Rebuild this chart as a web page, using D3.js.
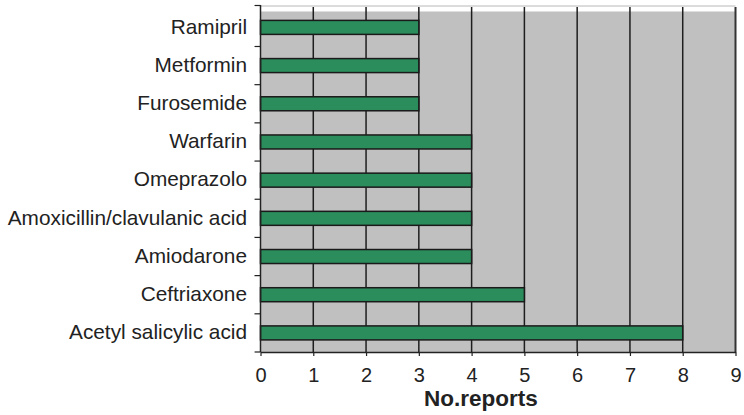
<!DOCTYPE html>
<html>
<head>
<meta charset="utf-8">
<script src="https://cdn.jsdelivr.net/npm/d3@7"></script>
<style>
  html, body { margin: 0; padding: 0; background: #fff; }
  svg { display: block; }
  text { font-family: "Liberation Sans", Arial, sans-serif; fill: #222; }
</style>
</head>
<body>
<svg id="chart" width="744" height="415"></svg>
<script>
// Drugs, listed top to bottom
const drugs = [
  "Ramipril", "Metformin", "Furosemide", "Warfarin", "Omeprazolo",
  "Amoxicillin/clavulanic acid", "Amiodarone", "Ceftriaxone", "Acetyl salicylic acid"
];
// Number of reports per drug
const reports = [3, 3, 3, 4, 4, 4, 4, 5, 8];
// X-axis ticks
const xTicks = [0, 1, 2, 3, 4, 5, 6, 7, 8, 9];
const xTitle = "No.reports";

const rows = drugs.map((d, i) => ({ drug: d, value: reports[i] }));

const plotLeft = 260.5, plotRight = 735.5, plotTop = 8.3, plotBottom = 352;

const svg = d3.select("#chart");

const x = d3.scaleLinear().domain([0, 9]).range([plotLeft, plotRight]);
const y = d3.scaleBand().domain(drugs).range([plotTop, plotBottom]).paddingInner(0).paddingOuter(0);

// plot background
svg.append("rect")
  .attr("x", plotLeft).attr("y", 11.5)
  .attr("width", plotRight - plotLeft).attr("height", plotBottom - 11.5)
  .attr("fill", "#c0c0c0");
svg.append("line")
  .attr("x1", plotLeft).attr("x2", plotRight)
  .attr("y1", 6).attr("y2", 6)
  .attr("stroke", "#b8b8b8").attr("stroke-width", 1);

// vertical gridlines
svg.append("g").selectAll("line")
  .data(xTicks.slice(1, -1))
  .join("line")
  .attr("x1", d => x(d)).attr("x2", d => x(d))
  .attr("y1", 7).attr("y2", plotBottom)
  .attr("stroke", "#1e1e1e").attr("stroke-width", 1.5);

// right border
svg.append("line")
  .attr("x1", plotRight).attr("x2", plotRight)
  .attr("y1", 7).attr("y2", plotBottom)
  .attr("stroke", "#333").attr("stroke-width", 2);

// bars
const barH = 14;
svg.append("g").selectAll("rect")
  .data(rows)
  .join("rect")
  .attr("x", x(0))
  .attr("y", d => y(d.drug) + y.bandwidth() / 2 - barH / 2)
  .attr("width", d => x(d.value) - x(0))
  .attr("height", barH)
  .attr("fill", "#2b8c5c")
  .attr("stroke", "#1a1a1a")
  .attr("stroke-width", 1.5);

// x axis
const xAxis = svg.append("g")
  .attr("transform", `translate(0,${plotBottom})`)
  .call(d3.axisBottom(x).tickValues(xTicks).tickFormat(d3.format("d")).tickSize(4).tickSizeOuter(0).tickPadding(12));
xAxis.select(".domain").attr("stroke", "#222").attr("stroke-width", 1.5);
xAxis.selectAll(".tick line").attr("stroke", "#222").attr("stroke-width", 1.2);
xAxis.selectAll(".tick text")
  .style("font-family", "'Liberation Sans', Arial, sans-serif")
  .style("font-size", "20px").attr("fill", "#222");

// y axis: ticks at category boundaries
const bounds = d3.range(drugs.length + 1).map(i => plotTop + i * y.bandwidth());
svg.append("line")
  .attr("x1", plotLeft).attr("x2", plotLeft)
  .attr("y1", 5).attr("y2", plotBottom)
  .attr("stroke", "#222").attr("stroke-width", 1.5);
svg.append("g").selectAll("line")
  .data(bounds)
  .join("line")
  .attr("x1", plotLeft - 6).attr("x2", plotLeft)
  .attr("y1", (d, i) => i === 0 ? 5.5 : d).attr("y2", (d, i) => i === 0 ? 5.5 : d)
  .attr("stroke", "#222").attr("stroke-width", 1.2);

// category labels
svg.append("g").selectAll("text")
  .data(drugs)
  .join("text")
  .attr("x", 247)
  .attr("y", d => y(d) + y.bandwidth() / 2 - 1)
  .attr("dy", "0.35em")
  .attr("text-anchor", "end")
  .style("font-size", "20.8px")
  .text(d => d);

// axis title
svg.append("text")
  .attr("x", 481).attr("y", 406)
  .attr("text-anchor", "middle")
  .style("font-size", "22.5px")
  .style("font-weight", "bold")
  .attr("fill", "#111")
  .text(xTitle);
</script>
</body>
</html>
